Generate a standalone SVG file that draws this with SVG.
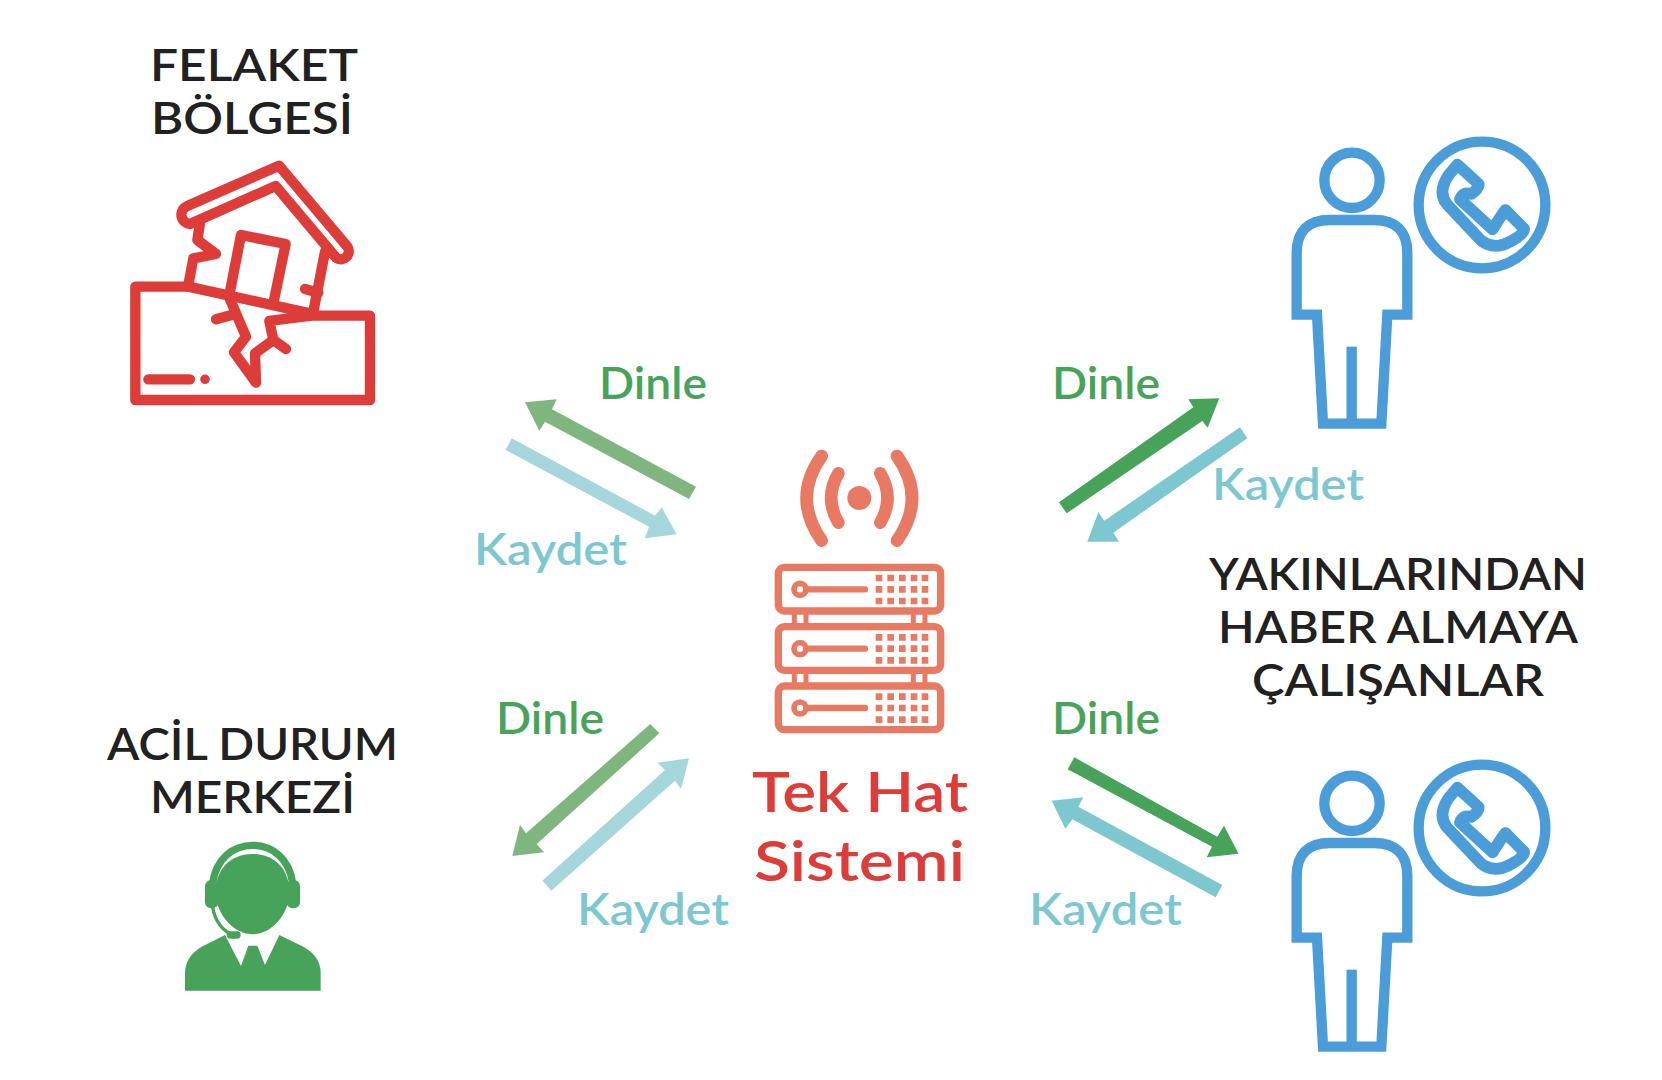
<svg xmlns="http://www.w3.org/2000/svg" xmlns:xlink="http://www.w3.org/1999/xlink" width="1662" height="1080" viewBox="0 0 1662 1080">
<style>
text{font-family:Lato,"Noto Sans","Liberation Sans",sans-serif;font-weight:600}
.h{font-size:44px;fill:#212121}
.d{font-size:44px;fill:#48a35a}
.k{font-size:44px;fill:#7cc7d0}
.t{font-size:56px;fill:#dd3c38}
.o{fill:none;stroke-linecap:round;stroke-linejoin:round}
.red{stroke:#dd3c38;stroke-width:31}
.sv{fill:none;stroke:#e87a64;stroke-width:22}
.bl{fill:none;stroke:#4a9dd8;stroke-width:31;stroke-miterlimit:10}
.dk{fill:#48a35a}.lg{fill:#7fb67f}.lb{fill:#a5d6db}.mb{fill:#7cc7d0}
</style>
<defs>
<g id="srv">
<rect class="sv" x="85" y="0" width="487" height="131" rx="18"/>
<circle cx="150" cy="66" r="18" fill="none" stroke="#e87a64" stroke-width="17"/>
<path d="M168 66H345" stroke="#e87a64" stroke-width="19" stroke-linecap="round" fill="none"/>
<path fill="#e87a64" d="M377 22h20v20h-20zM412 22h20v20h-20zM447 22h20v20h-20zM482 22h20v20h-20zM515 22h20v20h-20zM377 56h20v20h-20zM412 56h20v20h-20zM447 56h20v20h-20zM482 56h20v20h-20zM515 56h20v20h-20zM377 91h20v20h-20zM412 91h20v20h-20zM447 91h20v20h-20zM482 91h20v20h-20zM515 91h20v20h-20z"/>
</g>
<g id="person" transform="translate(1270 120) scale(.33333)">
<circle class="bl" cx="246" cy="181" r="83"/>
<path class="bl" d="M80 584V400Q80 300 180 300H312Q412 300 412 400V584H352L334 911H159L141 584Z"/>
<path class="bl" d="M245 680V911"/>
<circle class="bl" cx="636" cy="255" r="190"/>
<path d="M562 134L626 192Q628 205 604 222Q578 214 570 238L668 328Q690 292 706 270L762 326Q766 340 722 364Q672 392 634 362L530 252Q502 215 536 165Z" fill="none" stroke="#4a9dd8" stroke-width="35" stroke-linejoin="round"/>
</g>
</defs>
<rect width="1662" height="1080" fill="#fff"/>
<g id="connectors">
<polygon class="lg" transform="translate(470 350) scale(.33333)" points="678,410 246,178 260,148 165,157 208,242 225,215 657,447"/>
<polygon class="lb" transform="translate(470 350) scale(.33333)" points="125,265 555,497 575,472 620,553 525,565 537,530 107,300"/>
<polygon class="dk" transform="translate(1040 350) scale(.33333)" points="57,457 460,172 445,148 538,145 503,233 487,213 80,490"/>
<polygon class="mb" transform="translate(1040 350) scale(.33333)" points="600,232 193,512 175,487 142,575 237,575 220,548 622,265"/>
<polygon class="lg" transform="translate(480 690) scale(.33333)" points="511,102 138,430 120,405 97,498 192,487 170,462 538,130"/>
<polygon class="lb" transform="translate(480 690) scale(.33333)" points="187,572 555,240 533,218 627,205 603,297 585,272 214,602"/>
<polygon class="dk" transform="translate(1040 690) scale(.33333)" points="103,202 532,440 552,407 596,491 500,502 516,470 83,238"/>
<polygon class="mb" transform="translate(1040 690) scale(.33333)" points="547,585 115,350 130,322 35,332 76,416 97,388 527,622"/>
</g>
<g id="node-felaket">
<g class="o red" transform="translate(110 140) scale(.33333)">
<path d="M235 440H76V780H780V527H605L478 543L490 600L435 640L438 728L372 637L408 590L360 478"/>
<path d="M235 440L600 520"/>
<path d="M232 198L507 77L712 320A24 24 0 0 1 678 353L497 138L240 252A28 28 0 0 1 232 198Z"/>
<path d="M270 250L262 300L318 342L250 355L235 435"/>
<path d="M645 335L610 515"/>
<path d="M358 465L393 285L527 312L490 490"/>
<path d="M585 447L625 458M318 538L365 525M490 600L528 627M115 718H240"/>
</g>
<circle cx="205" cy="379.3" r="4.8" fill="#dd3c38"/>
<text class="h" x="150" y="81" textLength="208" lengthAdjust="spacingAndGlyphs">FELAKET</text>
<text class="h" x="151" y="134" textLength="202" lengthAdjust="spacingAndGlyphs">BÖLGESİ</text>
</g>
<g id="node-acil">
<text class="h" x="107" y="760" textLength="291" lengthAdjust="spacingAndGlyphs">ACİL DURUM</text>
<text class="h" x="150" y="813" textLength="205" lengthAdjust="spacingAndGlyphs">MERKEZİ</text>
<g transform="translate(170 830) scale(.33333)" fill="#48a35a">
<path d="M248 72C320 72 360 125 358 190C355 260 300 313 248 313C195 313 140 260 137 190C135 125 175 72 248 72Z"/>
<path d="M128 160C138 85 190 46 248 46C306 46 358 85 368 160" fill="none" stroke="#48a35a" stroke-width="22"/>
<rect x="105" y="150" width="40" height="85" rx="18"/>
<rect x="350" y="150" width="40" height="85" rx="18"/>
<path d="M128 232C135 275 160 305 190 315" fill="none" stroke="#48a35a" stroke-width="10"/>
<rect x="170" y="304" width="42" height="22" rx="11"/>
<path d="M45 482V425Q48 378 95 350L165 315L213 408L235 347H262L285 405L328 315L400 350Q450 378 452 425V482Z"/>
</g>
</g>
<g id="node-yakinlar">
<use xlink:href="#person" href="#person"/>
<use xlink:href="#person" href="#person" y="623"/>
<text class="h" x="1209" y="590" textLength="378" lengthAdjust="spacingAndGlyphs">YAKINLARINDAN</text>
<text class="h" x="1218" y="643" textLength="360" lengthAdjust="spacingAndGlyphs">HABER ALMAYA</text>
<text class="h" x="1252" y="696" textLength="292" lengthAdjust="spacingAndGlyphs">ÇALIŞANLAR</text>
</g>
<g id="node-tekhat">
<g transform="translate(750 430) scale(.33333)">
<circle cx="328" cy="204" r="36" fill="#e87a64"/>
<path d="M265 130Q222 204 265 278M215 78Q125 204 215 332M391 130Q434 204 391 278M441 78Q531 204 441 332" fill="none" stroke="#e87a64" stroke-width="38" stroke-linecap="round"/>
<path d="M133 543V590M168 543V590M490 543V590M525 543V590M133 721V768M168 721V768M490 721V768M525 721V768" stroke="#e87a64" stroke-width="15" fill="none"/>
<use xlink:href="#srv" href="#srv" y="412"/>
<use xlink:href="#srv" href="#srv" y="590"/>
<use xlink:href="#srv" href="#srv" y="768"/>
</g>
<text class="t" x="752" y="812" textLength="216" lengthAdjust="spacingAndGlyphs">Tek Hat</text>
<text class="t" x="754" y="881" textLength="211" lengthAdjust="spacingAndGlyphs">Sistemi</text>
</g>
<g id="labels">
<text class="d" x="599" y="399" textLength="108" lengthAdjust="spacingAndGlyphs">Dinle</text>
<text class="k" x="474" y="565" textLength="153" lengthAdjust="spacingAndGlyphs">Kaydet</text>
<text class="d" x="1052" y="399" textLength="108" lengthAdjust="spacingAndGlyphs">Dinle</text>
<text class="k" x="1212" y="500" textLength="152" lengthAdjust="spacingAndGlyphs">Kaydet</text>
<text class="d" x="496" y="734" textLength="108" lengthAdjust="spacingAndGlyphs">Dinle</text>
<text class="k" x="577" y="925" textLength="152" lengthAdjust="spacingAndGlyphs">Kaydet</text>
<text class="d" x="1052" y="734" textLength="108" lengthAdjust="spacingAndGlyphs">Dinle</text>
<text class="k" x="1029" y="925" textLength="153" lengthAdjust="spacingAndGlyphs">Kaydet</text>
</g>
</svg>
